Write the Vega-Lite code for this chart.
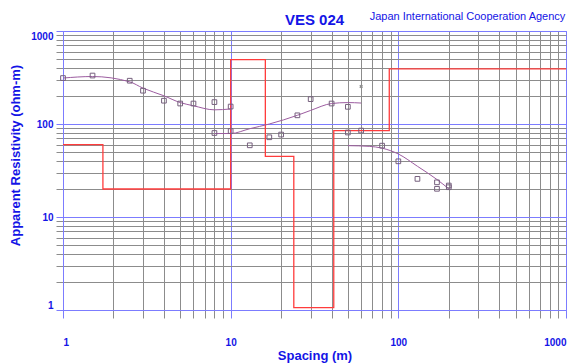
{
  "$schema": "https://vega.github.io/schema/vega-lite/v6.json",
  "width": 503,
  "height": 279,
  "autosize": {"type": "none"},
  "padding": {"left": 63, "top": 31, "right": 10, "bottom": 53},
  "background": "white",
  "view": {"stroke": "#7c7cff", "strokeWidth": 1},
  "title": {
    "text": "VES 024",
    "anchor": "middle",
    "font": "Liberation Sans, Arial, sans-serif",
    "fontSize": 15,
    "fontWeight": "bold",
    "color": "#1414e6",
    "offset": 0,
    "dy": 18
  },
  "datasets": {
    "obs": [
      {"series": "a", "x": 1, "y": 312}, {"series": "a", "x": 1.5, "y": 332}, {"series": "a", "x": 2.5, "y": 292},
      {"series": "a", "x": 3, "y": 228}, {"series": "a", "x": 4, "y": 178}, {"series": "a", "x": 5, "y": 166},
      {"series": "a", "x": 6, "y": 166}, {"series": "a", "x": 8, "y": 172}, {"series": "a", "x": 10, "y": 154},
      {"series": "b", "x": 8, "y": 80}, {"series": "b", "x": 10, "y": 84}, {"series": "b", "x": 13, "y": 59},
      {"series": "b", "x": 17, "y": 72}, {"series": "b", "x": 20, "y": 77}, {"series": "b", "x": 25, "y": 124},
      {"series": "b", "x": 30, "y": 185}, {"series": "b", "x": 40, "y": 166}, {"series": "b", "x": 50, "y": 153},
      {"series": "c", "x": 50, "y": 81}, {"series": "c", "x": 60, "y": 85}, {"series": "c", "x": 80, "y": 58.5},
      {"series": "c", "x": 100, "y": 39.7}, {"series": "c", "x": 130, "y": 25.7}, {"series": "c", "x": 170, "y": 23.6},
      {"series": "c", "x": 170, "y": 20.1}, {"series": "c", "x": 200, "y": 20.9}, {"series": "c", "x": 200, "y": 21.8}
    ],
    "masked": [
      {"x": 60, "y": 253}
    ],
    "curves": [
      {"series": "a", "x": 1, "y": 312}, {"series": "a", "x": 1.5, "y": 324}, {"series": "a", "x": 2.5, "y": 284},
      {"series": "a", "x": 3, "y": 243}, {"series": "a", "x": 4, "y": 201}, {"series": "a", "x": 5, "y": 170},
      {"series": "a", "x": 6, "y": 157}, {"series": "a", "x": 8, "y": 142}, {"series": "a", "x": 10, "y": 145},
      {"series": "b", "x": 8, "y": 79}, {"series": "b", "x": 10, "y": 79}, {"series": "b", "x": 13, "y": 89},
      {"series": "b", "x": 17, "y": 100}, {"series": "b", "x": 25, "y": 124}, {"series": "b", "x": 30, "y": 140},
      {"series": "b", "x": 40, "y": 166}, {"series": "b", "x": 50, "y": 170}, {"series": "b", "x": 60, "y": 168},
      {"series": "c", "x": 50, "y": 58.5}, {"series": "c", "x": 67, "y": 57.5}, {"series": "c", "x": 80, "y": 55},
      {"series": "c", "x": 100, "y": 47.6}, {"series": "c", "x": 130, "y": 35.1}, {"series": "c", "x": 170, "y": 25.3},
      {"series": "c", "x": 200, "y": 20.1}
    ],
    "model": [
      {"x": 1, "y": 60}, {"x": 1.73, "y": 20}, {"x": 10, "y": 493}, {"x": 16.1, "y": 44.9},
      {"x": 23.8, "y": 1.06}, {"x": 41.2, "y": 84.8}, {"x": 88.3, "y": 392}, {"x": 1000, "y": 392}
    ]
  },
  "encoding": {
    "y": {
      "field": "y",
      "type": "quantitative",
      "scale": {"type": "log", "domain": [1, 1000], "nice": false},
      "axis": {
        "values": [1, 2, 3, 4, 5, 6, 7, 8, 9, 10, 20, 30, 40, 50, 60, 70, 80, 90, 100, 200, 300, 400, 500, 600, 700, 800, 900, 1000],
        "format": "d",
        "labelExpr": "(datum.value == 1 || datum.value == 10 || datum.value == 100 || datum.value == 1000) ? datum.label : ''",
        "grid": true,
        "gridColor": {"condition": {"test": "datum.value == 1 || datum.value == 10 || datum.value == 100 || datum.value == 1000", "value": "#7c7cff"}, "value": "#8c8c8c"},
        "gridWidth": 1,
        "tickColor": {"condition": {"test": "datum.value == 1 || datum.value == 10 || datum.value == 100 || datum.value == 1000", "value": "#7c7cff"}, "value": "#8c8c8c"},
        "tickSize": 7,
        "domainColor": "#7c7cff",
        "labelColor": "#1414e6",
        "labelFont": "Liberation Sans, Arial, sans-serif",
        "labelFontSize": 10,
        "labelFontWeight": "bold",
        "labelPadding": 3,
        "labelFlush": true,
        "title": "Apparent Resistivity (ohm-m)",
        "titleColor": "#1414e6",
        "titleFont": "Liberation Sans, Arial, sans-serif",
        "titleFontSize": 13,
        "titleFontWeight": "bold",
        "titleAngle": -90,
        "titleAlign": "center",
        "titleBaseline": "middle",
        "titleX": -48,
        "titleY": 124
      }
    }
  },
  "layer": [
    {
      "data": {"name": "model"},
      "mark": {"type": "line", "interpolate": "step-after", "color": "#ff3c3c", "strokeWidth": 1.3, "clip": true},
      "encoding": {
        "x": {
          "field": "x",
          "type": "quantitative",
          "scale": {"type": "log", "domain": [1, 1000], "nice": false},
          "axis": {
            "orient": "bottom",
            "values": [1, 2, 3, 4, 5, 6, 7, 8, 9, 10, 20, 30, 40, 50, 60, 70, 80, 90, 100, 200, 300, 400, 500, 600, 700, 800, 900, 1000],
            "format": "d",
            "labelExpr": "(datum.value == 1 || datum.value == 10 || datum.value == 100 || datum.value == 1000) ? datum.label : ''",
            "grid": true,
            "gridColor": {"condition": {"test": "datum.value == 1 || datum.value == 10 || datum.value == 100 || datum.value == 1000", "value": "#7c7cff"}, "value": "#8c8c8c"},
            "gridWidth": 1,
            "tickColor": {"condition": {"test": "datum.value == 1 || datum.value == 10 || datum.value == 100 || datum.value == 1000", "value": "#7c7cff"}, "value": "#8c8c8c"},
            "tickSize": 8,
            "domainColor": "#7c7cff",
            "labelColor": "#1414e6",
            "labelFont": "Liberation Sans, Arial, sans-serif",
            "labelFontSize": 10,
            "labelFontWeight": "bold",
            "labelPadding": 19,
            "labelFlush": true,
            "title": "Spacing (m)",
            "titleColor": "#1414e6",
            "titleFont": "Liberation Sans, Arial, sans-serif",
            "titleFontSize": 13,
            "titleFontWeight": "bold",
            "titleBaseline": "middle",
            "titleY": 45
          }
        }
      }
    },
    {
      "data": {"name": "curves"},
      "mark": {"type": "line", "interpolate": "monotone", "color": "#9c5ca0", "strokeWidth": 1},
      "encoding": {
        "x": {"field": "x", "type": "quantitative", "scale": {"type": "log", "domain": [1, 1000], "nice": false}, "axis": null},
        "detail": {"field": "series"}
      }
    },
    {
      "data": {"name": "obs"},
      "mark": {"type": "point", "shape": "square", "filled": false, "size": 22, "color": "#76607e", "strokeWidth": 1, "opacity": 1},
      "encoding": {
        "x": {"field": "x", "type": "quantitative", "scale": {"type": "log", "domain": [1, 1000], "nice": false}, "axis": null}
      }
    },
    {
      "data": {"name": "masked"},
      "mark": {"type": "point", "shape": "cross", "angle": 45, "filled": true, "size": 14, "color": "#909090", "opacity": 1},
      "encoding": {
        "x": {
          "field": "x",
          "type": "quantitative",
          "scale": {"type": "log", "domain": [1, 1000], "nice": false},
          "axis": {
            "orient": "top",
            "domain": false,
            "ticks": false,
            "labels": false,
            "grid": false,
            "title": "Japan International Cooperation Agency",
            "titleColor": "#1414e6",
            "titleFont": "Liberation Sans, Arial, sans-serif",
            "titleFontSize": 11,
            "titleFontWeight": "normal",
            "titleAlign": "center",
            "titleBaseline": "middle",
            "titleX": 404,
            "titleY": -15
          }
        }
      }
    }
  ],
  "resolve": {"axis": {"x": "independent"}}
}
